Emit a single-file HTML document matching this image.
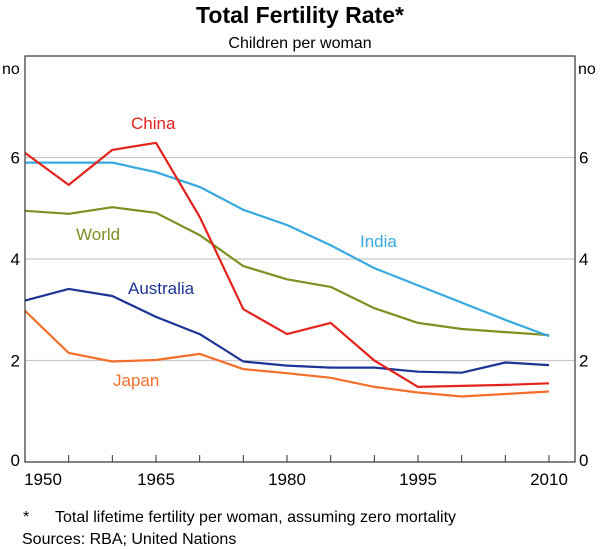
<!DOCTYPE html>
<html><head><meta charset="utf-8"><style>
html,body{margin:0;padding:0;background:#fff;}
svg{display:block;font-family:"Liberation Sans",Arial,sans-serif;}
</style></head><body>
<svg id="chart" width="600" height="549" viewBox="0 0 600 549">
<text x="300" y="23" text-anchor="middle" font-size="23" font-weight="bold" fill="#000">Total Fertility Rate*</text>
<text x="300" y="48" text-anchor="middle" font-size="16" fill="#000">Children per woman</text>
<g id="grid"></g>
<g id="series"></g>
<rect x="25" y="56" width="550" height="406" fill="none" stroke="#333" stroke-width="1.2"/>
<g id="axes"></g>
<text x="2" y="74" font-size="16">no</text>
<text x="578" y="74" font-size="16">no</text>
<text x="131" y="129" font-size="17" fill="#e3231c">China</text>
<text x="76" y="240" font-size="17" fill="#7f8f22">World</text>
<text x="360" y="247" font-size="17" fill="#36a9e1">India</text>
<text x="128" y="294" font-size="17" fill="#1c3595">Australia</text>
<text x="113" y="386" font-size="17" fill="#f66f2a">Japan</text>
<text x="23" y="522" font-size="16">*</text>
<text x="55" y="522" font-size="16">Total lifetime fertility per woman, assuming zero mortality</text>
<text x="22" y="544" font-size="16">Sources:  RBA; United Nations</text>
</svg>
<script>
const years=[1950,1955,1960,1965,1970,1975,1980,1985,1990,1995,2000,2005,2010];
const china=[6.09,5.46,6.15,6.29,4.83,3.01,2.52,2.74,2.0,1.48,1.5,1.52,1.55];
const india=[5.9,5.9,5.9,5.71,5.42,4.97,4.67,4.27,3.82,3.48,3.14,2.8,2.48];
const world=[4.95,4.89,5.02,4.91,4.47,3.86,3.6,3.45,3.03,2.74,2.62,2.56,2.5];
const australia=[3.18,3.41,3.27,2.86,2.52,1.98,1.9,1.86,1.86,1.78,1.76,1.96,1.91];
const japan=[2.98,2.15,1.98,2.01,2.13,1.83,1.75,1.66,1.48,1.37,1.29,1.34,1.39];
const yTicks=[0,2,4,6];
const xLabels=[1950,1965,1980,1995,2010];
const NS="http://www.w3.org/2000/svg";
function X(yr){return 25+(yr-1950)*(524/60);}
function Y(v){return 462-v*50.75;}
const grid=document.getElementById('grid'),axes=document.getElementById('axes'),ser=document.getElementById('series');
function mk(tag,attrs,parent){const e=document.createElementNS(NS,tag);for(const k in attrs)e.setAttribute(k,attrs[k]);parent.appendChild(e);return e;}
yTicks.forEach(v=>{
  if(v>0){const l=mk('line',{x1:25,x2:575,y1:Y(v),y2:Y(v),stroke:'#c8c8c8','stroke-width':1.2},grid);
  
  }
  const t1=mk('text',{x:20,y:Y(v)+(v===0?4:6),'text-anchor':'end','font-size':17},axes);t1.textContent=v;
  
  
  const t2=mk('text',{x:579,y:Y(v)+(v===0?4:6),'font-size':17},axes);t2.textContent=v;
  
  
});
years.forEach(yr=>{
  if(yr===1950)return;
  const l=mk('line',{x1:X(yr),x2:X(yr),y1:462,y2:455,stroke:'#333','stroke-width':1},axes);
  
  
});
xLabels.forEach(yr=>{
  const cx=yr===1950?X(yr)+18:X(yr);
  const t=mk('text',{x:cx,y:485,'text-anchor':'middle','font-size':17},axes);t.textContent=yr;
  
  
});
const defs=[['world',world,'#7f8f22'],['australia',australia,'#1c3595'],['japan',japan,'#f66f2a'],['india',india,'#36a9e1'],['china',china,'#e3231c']];
defs.forEach(([n,arr,c])=>{
  const pts=arr.map((v,i)=>X(years[i]).toFixed(1)+','+Y(v).toFixed(1)).join(' ');
  const p=mk('polyline',{points:pts,fill:'none',stroke:c,'stroke-width':2.2,'stroke-linejoin':'round'},ser);
  
  
});
</script>
</body></html>
